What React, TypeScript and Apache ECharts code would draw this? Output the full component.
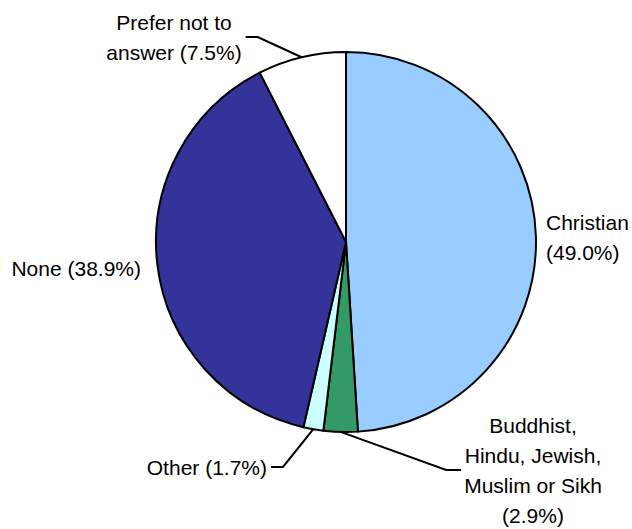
import React, { useEffect, useRef } from "react";
import * as echarts from "echarts";

const categories = [
  "Christian",
  "Buddhist,\nHindu, Jewish,\nMuslim or Sikh",
  "Other",
  "None",
  "Prefer not to\nanswer",
];
const values = [49.0, 2.9, 1.7, 38.9, 7.5];
const labelTexts = [
  "Christian\n(49.0%)",
  "Buddhist,\nHindu, Jewish,\nMuslim or Sikh\n(2.9%)",
  "Other (1.7%)",
  "None (38.9%)",
  "Prefer not to\nanswer (7.5%)",
];
const colors = ["#99CCFF", "#339966", "#CCFFFF", "#333399", "#FFFFFF"];

// label placement (layout config, not data)
const labelPlacement = [
  { x: 546, y: 237, align: "left", line: false },
  { x: 533, y: 470, align: "center", line: true },
  { x: 267, y: 467, align: "right", line: true },
  { x: 141, y: 268, align: "right", line: false },
  { x: 174, y: 37, align: "center", line: true },
];

export default function App() {
  const ref = useRef<HTMLDivElement>(null);
  useEffect(() => {
    if (!ref.current) return;
    const chart = echarts.init(ref.current, null, { renderer: "svg" });
    chart.setOption({
      animation: false,
      backgroundColor: "#FFFFFF",
      series: [
        {
          type: "pie",
          center: [346, 242],
          radius: 190,
          startAngle: 90,
          clockwise: true,
          avoidLabelOverlap: false,
          itemStyle: { borderColor: "#000000", borderWidth: 2 },
          emphasis: { disabled: true },
          label: {
            show: true,
            position: "outside",
            color: "#000000",
            fontFamily: "Liberation Sans, Arial, sans-serif",
            fontSize: 21,
            lineHeight: 30,
          },
          labelLine: {
            show: true,
            length: 20,
            length2: 12,
            lineStyle: { color: "#000000", width: 2 },
          },
          labelLayout: (params: any) => {
            const p = labelPlacement[params.dataIndex];
            const w = params.labelRect.width;
            const res: any = {
              x: p.x,
              y: p.y,
              align: p.align,
              verticalAlign: "middle",
            };
            if (p.line && params.labelLinePoints) {
              const anchor = params.labelLinePoints[0];
              let leftEdge: number;
              if (p.align === "left") leftEdge = p.x;
              else if (p.align === "right") leftEdge = p.x - w;
              else leftEdge = p.x - w / 2;
              const rightEdge = leftEdge + w;
              let end: number[];
              let elbow: number[];
              if (anchor[0] > rightEdge) {
                end = [rightEdge + 4, p.y];
                elbow = [end[0] + 12, p.y];
              } else {
                end = [leftEdge - 3, p.y];
                elbow = [end[0] - 15, p.y];
              }
              res.labelLinePoints = [anchor, elbow, end];
            }
            return res;
          },
          data: values.map((v, i) => ({
            name: categories[i],
            value: v,
            itemStyle: { color: colors[i] },
            label: { formatter: labelTexts[i] },
            labelLine: { show: labelPlacement[i].line },
          })),
        },
      ],
    });
    return () => chart.dispose();
  }, []);
  return (
    <div
      ref={ref}
      style={{ position: "fixed", left: 0, top: 0, width: 632, height: 529 }}
    />
  );
}
